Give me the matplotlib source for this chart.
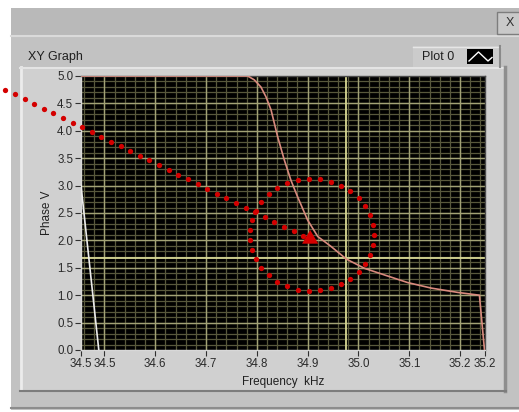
import numpy as np
import matplotlib
matplotlib.use("Agg")
import matplotlib.pyplot as plt
from matplotlib.patches import Rectangle, Polygon
from matplotlib.lines import Line2D
from matplotlib.ticker import FixedLocator, FuncFormatter

W, H = 519, 412

# Plot 0: phase detector output across the sweep
freq_khz = [34.454, 34.782, 34.795, 34.808, 34.818, 34.828, 34.841, 34.854,
            34.867, 34.880, 34.900, 34.920, 34.946, 34.976, 35.012, 35.051,
            35.097, 35.143, 35.196, 35.238, 35.248]
phase_v = [5.00, 5.00, 4.93, 4.80, 4.62, 4.38, 3.89, 3.47,
           3.10, 2.80, 2.37, 2.07, 1.89, 1.66, 1.49, 1.37,
           1.23, 1.13, 1.05, 1.00, 0.00]

# wrap-around segment at the start of the sweep
wrap_freq_khz = [34.454, 34.489]
wrap_phase_v = [3.00, 0.00]

x_range = (34.454, 35.249)
y_range = (0.0, 5.0)
x_ticks = [34.454, 34.5, 34.6, 34.7, 34.8, 34.9, 35.0, 35.1, 35.2, 35.249]
y_ticks = [0.0, 0.5, 1.0, 1.5, 2.0, 2.5, 3.0, 3.5, 4.0, 4.5, 5.0]

# cursor cross-hair
cursor_x = 34.976
cursor_y = 1.68

# hand-drawn markup: dotted arrow + dotted ring around the crossing point
arrow_start = (34.305, 4.75)
arrow_end = (34.8915, 2.08)
arrow_dots = 32
ring_center = (34.908, 2.10)
ring_radii = (0.1224, 1.022)
ring_dots = 35
head = [(34.889, 1.94), (34.921, 1.94), (34.905, 2.19)]

plt.rcParams["font.family"] = ["Liberation Sans", "DejaVu Sans"]

fig = plt.figure(figsize=(W / 100, H / 100), dpi=100, facecolor="white")


def fx(px):
    return px / W


def fy(py):
    return 1 - py / H


def rect(x0, y0, x1, y1, z=-5, **kw):
    fig.add_artist(Rectangle((fx(x0), fy(y1)), (x1 - x0) / W, (y1 - y0) / H,
                             transform=fig.transFigure, zorder=z, **kw))


def hline(x0, x1, y, color, lw=1.0, z=-4):
    fig.add_artist(Line2D([fx(x0), fx(x1)], [fy(y), fy(y)], transform=fig.transFigure,
                          color=color, lw=lw, zorder=z))


def vline(x, y0, y1, color, lw=1.0, z=-4):
    fig.add_artist(Line2D([fx(x), fx(x)], [fy(y0), fy(y1)], transform=fig.transFigure,
                          color=color, lw=lw, zorder=z))


# window body and title strip
rect(11, 8, 519, 410, facecolor="#c2c2c2", edgecolor="none")
rect(11, 8, 519, 35, facecolor="#b9b9b9", edgecolor="none")
hline(11, 519, 35.5, "#dadada", 1.5)
hline(11, 519, 408, "#8c8c8c", 1.5)

# close button
rect(497, 12, 522, 34, z=-3, facecolor="#c9c9c9", edgecolor="#7d7d7d", lw=1.0)
fig.text(fx(510), fy(23.5), "X", ha="center", va="center", fontsize=9, color="#303030")

# graph frame with bevel
rect(20, 67, 506, 391, facecolor="#d0d0d0", edgecolor="none")
vline(21, 67, 390, "#ececec", 2.0)
hline(20, 505, 68, "#e4e4e4", 1.5)
vline(504.5, 67, 391, "#8e8e8e", 2.5)
hline(20, 506, 390.5, "#7c7c7c", 1.5)

fig.text(fx(28), fy(57), "XY Graph", ha="left", va="center", fontsize=9, color="#202020")

# legend box
rect(413, 46, 500, 67, z=-3, facecolor="#cbcbcb", edgecolor="none")
hline(413, 500, 46.5, "#e6e6e6", 1.0, z=-2)
vline(499.5, 46, 67, "#8a8a8a", 1.5, z=-2)
rect(467, 49, 493, 64, z=-2, facecolor="black", edgecolor="none")
fig.add_artist(Line2D([fx(469), fx(478.5), fx(488), fx(492)],
                      [fy(61), fy(52), fy(61), fy(57.5)],
                      transform=fig.transFigure, color="white", lw=1.0, zorder=-1))
fig.text(fx(422), fy(57), "Plot 0", ha="left", va="center", fontsize=9, color="#202020")

# plot area
ax = fig.add_axes([fx(81), fy(350), (485 - 81) / W, (350 - 76) / H])
ax.set_facecolor("black")
ax.set_xlim(*x_range)
ax.set_ylim(*y_range)

# grid: minor every 0.02 kHz / 0.1 V, major every 0.1 kHz / 0.5 V
minor_x = np.round(np.arange(34.46, 35.25, 0.02), 3)
minor_y = np.round(np.arange(0.1, 5.0, 0.1), 2)
major_x = x_ticks[1:-1]
major_y = y_ticks[1:-1]
ax.vlines(minor_x, *y_range, colors="#58583c", lw=0.9, zorder=1)
ax.hlines(minor_y, *x_range, colors="#58583c", lw=0.9, zorder=1)
ax.vlines(major_x, *y_range, colors="#a2a276", lw=1.0, zorder=1.2)
ax.hlines(major_y, *x_range, colors="#a2a276", lw=1.0, zorder=1.2)

ax.axvline(cursor_x, color="#d8d894", lw=1.3, zorder=1.5)
ax.axhline(cursor_y, color="#d8d894", lw=1.3, zorder=1.5)

ax.plot(freq_khz, phase_v, color="#d98a7e", lw=1.2, zorder=3)
ax.plot(wrap_freq_khz, wrap_phase_v, color="#ececec", lw=1.2, zorder=3)

ax.xaxis.set_major_locator(FixedLocator(x_ticks))
ax.yaxis.set_major_locator(FixedLocator(y_ticks))
ax.xaxis.set_major_formatter(FuncFormatter(lambda v, p: f"{v:.1f}"))
ax.yaxis.set_major_formatter(FuncFormatter(lambda v, p: f"{v:.1f}"))
ax.tick_params(axis="both", length=4, width=0.8, color="#303030",
               labelsize=8.3, labelcolor="#2a2a2a", pad=1.5)

for side, sp in ax.spines.items():
    sp.set_color("#d8d8d8" if side in ("bottom", "left") else "#4a4a4a")
    sp.set_linewidth(1.0)

ax.set_xlabel("Frequency  kHz", fontsize=8.5, color="#202020")
ax.xaxis.set_label_coords(0.5, -0.095)
ax.set_ylabel("Phase V", fontsize=8.5, color="#202020")
ax.yaxis.set_label_coords(-0.069, 0.5)

# dotted arrow, arrow head and dotted ring
t = np.linspace(0, 1, arrow_dots)
ax_x = arrow_start[0] + t * (arrow_end[0] - arrow_start[0])
ax_y = arrow_start[1] + t * (arrow_end[1] - arrow_start[1])
ax.plot(ax_x, ax_y, "o", color="#d40000", ms=3.8, mec="none", clip_on=False, zorder=6)

th = np.linspace(0, 2 * np.pi, ring_dots, endpoint=False)
ax.plot(ring_center[0] + ring_radii[0] * np.cos(th),
        ring_center[1] + ring_radii[1] * np.sin(th),
        "o", color="#d40000", ms=3.8, mec="none", clip_on=False, zorder=6)
ax.add_patch(Polygon(head, closed=True, facecolor="#d40000", edgecolor="none",
                     clip_on=False, zorder=6))

fig.savefig("out.png", dpi=100, facecolor="white")
